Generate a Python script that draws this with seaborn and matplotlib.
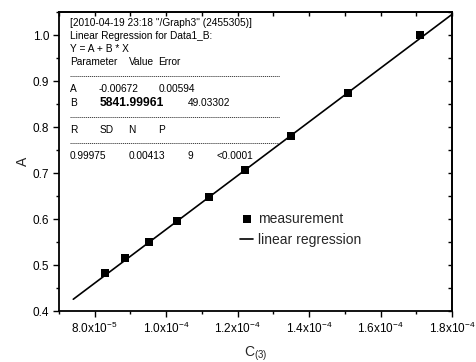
import numpy as np
import pandas as pd
import matplotlib
matplotlib.use("Agg")
import matplotlib.pyplot as plt
import seaborn as sns

# ---- data ----
conc = [8.30e-5, 8.86e-5, 9.51e-5, 1.030e-4, 1.121e-4, 1.220e-4, 1.350e-4, 1.510e-4, 1.710e-4]
absorb = [0.482, 0.515, 0.550, 0.595, 0.648, 0.707, 0.780, 0.874, 1.000]
fit_A = -0.00672
fit_B = 5841.99961
fit_range = [7.4e-5, 1.8e-4]

xticks = [8.0e-5, 1.0e-4, 1.2e-4, 1.4e-4, 1.6e-4, 1.8e-4]
xticklabels = ["8.0x10$^{-5}$", "1.0x10$^{-4}$", "1.2x10$^{-4}$",
               "1.4x10$^{-4}$", "1.6x10$^{-4}$", "1.8x10$^{-4}$"]
yticks = [0.4, 0.5, 0.6, 0.7, 0.8, 0.9, 1.0]
yticklabels = ["0.4", "0.5", "0.6", "0.7", "0.8", "0.9", "1.0"]

header_lines = ['[2010-04-19 23:18 "/Graph3" (2455305)]',
                'Linear Regression for Data1_B:',
                'Y = A + B * X']
param_header = ["Parameter", "Value", "Error"]
row_A = ["A", "-0.00672", "0.00594"]
row_B = ["B", "5841.99961", "49.03302"]
stat_header = ["R", "SD", "N", "P"]
stat_values = ["0.99975", "0.00413", "9", "<0.0001"]

# ---- style ----
sns.set_theme(style="ticks")
plt.rcParams["font.family"] = ["Liberation Sans", "DejaVu Sans"]
plt.rcParams["mathtext.fontset"] = "custom"
plt.rcParams["mathtext.rm"] = "Liberation Sans"
plt.rcParams["mathtext.it"] = "Liberation Sans:italic"
plt.rcParams["mathtext.bf"] = "Liberation Sans:bold"

W, H = 477, 362
fig = plt.figure(figsize=(W / 100, H / 100), dpi=100)
ax = fig.add_axes([59 / W, 1 - 311 / H, (452 - 59) / W, (311 - 12) / H])

df = pd.DataFrame({"C": conc, "A": absorb})
fx = np.array(fit_range)
fit_df = pd.DataFrame({"C": fx, "A": fit_A + fit_B * fx})

sns.lineplot(data=fit_df, x="C", y="A", ax=ax, color="black", linewidth=1.2,
             label="linear regression", zorder=2)
sns.scatterplot(data=df, x="C", y="A", ax=ax, marker="s", color="black", s=30,
                edgecolor="black", linewidth=0, label="measurement", zorder=3)

ax.set_xlim(7.0e-5, 1.8e-4)
ax.set_ylim(0.4, 1.05)
ax.set_xticks(xticks)
ax.set_xticklabels(xticklabels)
ax.set_xticks(np.arange(7.0e-5, 1.8e-4 + 1e-9, 1.0e-5), minor=True)
ax.set_yticks(yticks)
ax.set_yticklabels(yticklabels)
ax.set_yticks(np.arange(0.45, 1.06, 0.1), minor=True)

for s in ax.spines.values():
    s.set_visible(True)
    s.set_linewidth(1.3)
    s.set_color("black")

ax.tick_params(which="both", direction="out", color="black", width=1.0,
               labelsize=8.5, labelcolor="black", pad=3)
ax.tick_params(which="major", length=4)
ax.tick_params(which="minor", length=2.5)

# inward ticks on top and right
top = ax.secondary_xaxis("top")
top.set_xticks(np.arange(7.0e-5, 1.8e-4 + 1e-9, 1.0e-5))
top.tick_params(direction="in", length=3, width=1.0, labeltop=False, color="black")
top.spines["top"].set_linewidth(1.3)
right = ax.secondary_yaxis("right")
right.set_yticks(np.arange(0.4, 1.06, 0.05))
right.tick_params(direction="in", length=3, width=1.0, labelright=False, color="black")
right.spines["right"].set_linewidth(1.3)

ax.set_xlabel("C$_{(3)}$", fontsize=10, labelpad=6)
ax.set_ylabel("A", fontsize=10, labelpad=2)

handles, labels = ax.get_legend_handles_labels()
order = [labels.index("measurement"), labels.index("linear regression")]
ax.legend([handles[i] for i in order], [labels[i] for i in order],
          loc="upper left", bbox_to_anchor=((240 - 59) / 393, (311 - 212) / 299),
          frameon=False, fontsize=10, handlelength=0.95, handletextpad=0.35,
          borderpad=0, borderaxespad=0, labelspacing=0.5)

# ---- regression report text ----
fs = 7.3
def ftext(px, py, s, **kw):
    kw.setdefault("fontsize", fs)
    fig.text(px / W, 1 - py / H, s, va="center", ha="left", color="black", **kw)

for i, line in enumerate(header_lines):
    ftext(70, 22.7 + 13 * i, line)
for px, s in zip([70, 129.3, 158.3], param_header):
    ftext(px, 61.7, s)
for px, s in zip([70, 98.3, 158.3], row_A):
    ftext(px, 88.7, s)
ftext(70, 102.7, row_B[0])
ftext(99.3, 102.7, row_B[1], fontsize=8.7, fontweight="bold")
ftext(187.7, 102.7, row_B[2])
for px, s in zip([70, 99.3, 128.3, 158.3], stat_header):
    ftext(px, 130, s)
for px, s in zip([70, 128.3, 187.7, 216.7], stat_values):
    ftext(px, 155.7, s)

for py in [76, 117.3, 143.3]:
    fig.add_artist(plt.Line2D([70 / W, 280 / W], [1 - py / H, 1 - py / H],
                              transform=fig.transFigure, color="#444444",
                              linewidth=0.7, linestyle=(0, (1.2, 0.8))))

fig.savefig("out.png", dpi=100)
